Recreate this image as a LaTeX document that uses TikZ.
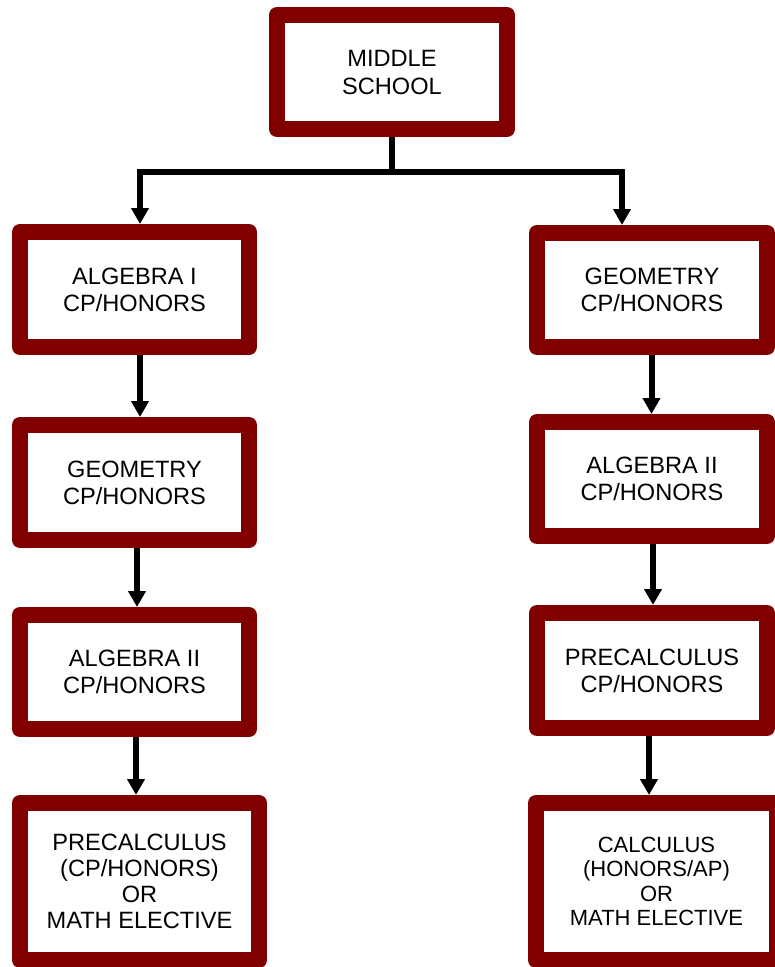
\documentclass[tikz,border=0pt]{standalone}
\usepackage{fontspec}
\setmainfont{Liberation Sans}
\usetikzlibrary{arrows.meta}
\definecolor{boxred}{RGB}{128,0,0}
\begin{document}
\begin{tikzpicture}[x=1pt,y=-1pt,
  course/.style={draw=boxred, line width=16pt, line join=round, fill=white,
    align=center, inner sep=0pt, font=\fontsize{23.6}{27}\selectfont,
    minimum width=229pt, minimum height=115pt},
  wide/.style={minimum width=240pt, minimum height=157pt},
  link/.style={line width=6pt, draw=black},
  arr/.style={link, -{Triangle[width=17pt,length=16pt]}}]
\useasboundingbox (0,0) rectangle (775,967);
\fill[white] (0,0) rectangle (775,967);

\node[course, minimum width=230pt, minimum height=114pt, font=\fontsize{23.6}{28}\selectfont] (top) at (392,72) {MIDDLE\\SCHOOL};

\node[course] (L1) at (134.5,289.5) {ALGEBRA I\\CP/HONORS};
\node[course] (L2) at (134.5,482.5) {GEOMETRY\\CP/HONORS};
\node[course, minimum height=114pt] (L3) at (134.5,672) {ALGEBRA II\\CP/HONORS};
\node[course, wide, minimum width=239pt, font=\fontsize{23.6}{26}\selectfont] (L4) at (139.5,881.5) {PRECALCULUS\\(CP/HONORS)\\OR\\MATH ELECTIVE};

\node[course, minimum width=230pt, minimum height=114pt] (R1) at (652,290) {GEOMETRY\\CP/HONORS};
\node[course, minimum width=230pt, minimum height=114pt] (R2) at (652,479) {ALGEBRA II\\CP/HONORS};
\node[course, minimum width=230pt] (R3) at (652,670.5) {PRECALCULUS\\CP/HONORS};
\node[course, wide, minimum width=241pt, font=\fontsize{22}{24.5}\selectfont] (R4) at (656.5,881.5) {CALCULUS\\(HONORS/AP)\\OR\\MATH ELECTIVE};

\coordinate (hub) at (392,172);
\draw[link] (top.south) -- (hub);
\draw[arr] (hub) -| ([xshift=5.5pt]L1.north);
\draw[arr] (hub) -| ([xshift=-30pt]R1.north);

\draw[arr] ([xshift=5.5pt]L1.south) -- ([xshift=5.5pt]L2.north);
\draw[arr] ([xshift=2.5pt]L2.south) -- ([xshift=2.5pt]L3.north);
\draw[arr] ([xshift=1.5pt]L3.south) -- ([xshift=-3.5pt]L4.north);

\draw[arr] ([xshift=-0.5pt]R1.south) -- ([xshift=-0.5pt]R2.north);
\draw[arr] ([xshift=1pt]R2.south) -- ([xshift=1pt]R3.north);
\draw[arr] ([xshift=-3pt]R3.south) -- ([xshift=-7.5pt]R4.north);
\end{tikzpicture}
\end{document}
